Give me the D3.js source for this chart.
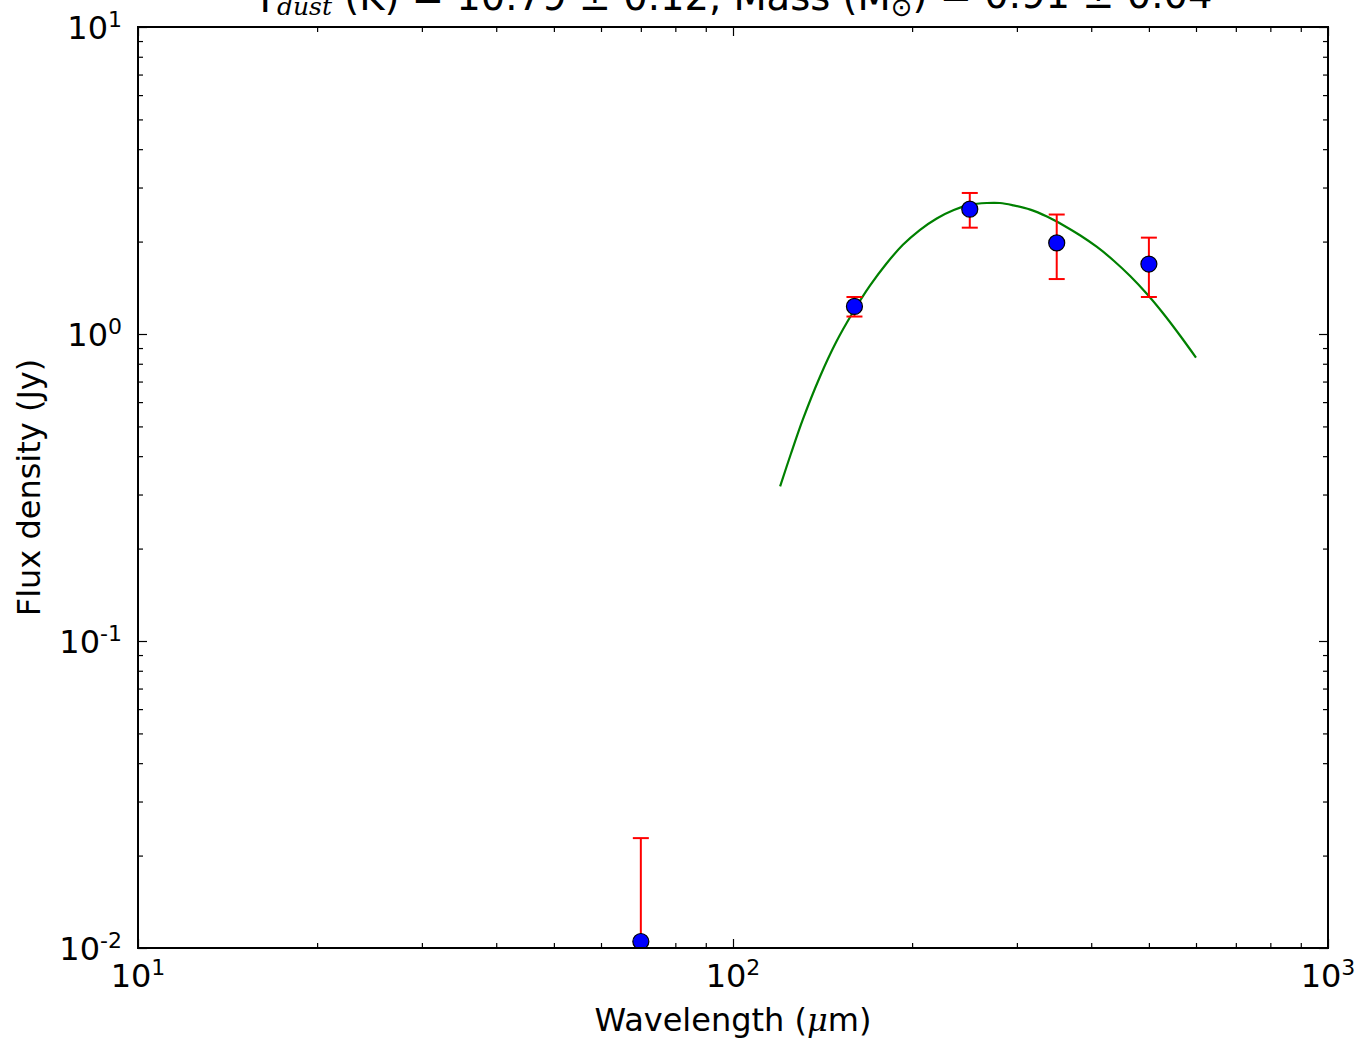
<!DOCTYPE html>
<html>
<head>
<meta charset="utf-8">
<script src="https://cdn.jsdelivr.net/npm/d3@7"></script>
<style>
  body { margin: 0; background: #fff; }
  text { font-family: "DejaVu Sans", sans-serif; fill: #000; }
</style>
</head>
<body>
<div id="chart-container"></div>
<script>
// Photometry points (wavelength in micron, flux in Jy, 1-sigma error)
const wavelength = [70, 160, 250, 350, 500];
const flux = [0.0105, 1.23, 2.55, 1.98, 1.69];
const fluxErr = [0.0123, 0.09, 0.33, 0.47, 0.37];

// Fitted greybody curve
const fitWavelength = [120, 125, 131, 140, 149, 159, 170, 181, 193, 206, 220, 235, 250, 267,
  281, 296, 316, 337, 359, 383, 409, 436, 465, 496, 529, 564, 600];
const fitFlux = [0.319, 0.405, 0.526, 0.726, 0.940, 1.175, 1.439, 1.694, 1.952, 2.181, 2.379, 2.535, 2.634, 2.671,
  2.671, 2.624, 2.541, 2.413, 2.262, 2.097, 1.921, 1.736, 1.545, 1.352, 1.164, 0.989, 0.838];

// Axis ranges and tick label exponents
const xDomain = [10, 1000];
const yDomain = [0.01, 10];
const xMajorExp = [1, 2, 3];
const yMajorExp = [-2, -1, 0, 1];

// Set dimensions and margins for the chart
const W = 1358, H = 1039;
const margin = { top: 27, right: 30, bottom: 91, left: 138 };
const width = W - margin.left - margin.right;
const height = H - margin.top - margin.bottom;

const x = d3.scaleLog().domain(xDomain).range([0, width]);
const y = d3.scaleLog().domain(yDomain).range([height, 0]);

const svg = d3.select("#chart-container")
  .append("svg")
  .attr("width", W)
  .attr("height", H)
  .append("g")
  .attr("transform", `translate(${margin.left},${margin.top})`);

svg.append("clipPath")
  .attr("id", "plot-clip")
  .append("rect")
  .attr("width", width)
  .attr("height", height);

const isMajor = d => Math.abs(Math.log10(d) - Math.round(Math.log10(d))) < 1e-6;
const xMinor = x.ticks().filter(d => !isMajor(d));
const yMinor = y.ticks().filter(d => !isMajor(d));
const xMajor = xMajorExp.map(e => Math.pow(10, e));
const yMajor = yMajorExp.map(e => Math.pow(10, e));

// Inward ticks on all four sides
function ticks(axisFn, scale, values, size, transform) {
  svg.append("g")
    .attr("transform", transform)
    .call(axisFn(scale).tickValues(values).tickSize(-size).tickFormat(""))
    .call(g => g.select(".domain").remove())
    .selectAll(".tick line")
    .attr("stroke", "#000")
    .attr("stroke-width", 1.2);
}
ticks(d3.axisBottom, x, xMinor, 5, `translate(0,${height})`);
ticks(d3.axisBottom, x, xMajor, 9, `translate(0,${height})`);
ticks(d3.axisTop, x, xMinor, 5, "translate(0,0)");
ticks(d3.axisTop, x, xMajor, 9, "translate(0,0)");
ticks(d3.axisLeft, y, yMinor, 5, "translate(0,0)");
ticks(d3.axisLeft, y, yMajor, 9, "translate(0,0)");
ticks(d3.axisRight, y, yMinor, 5, `translate(${width},0)`);
ticks(d3.axisRight, y, yMajor, 9, `translate(${width},0)`);

// Power-of-ten tick labels
function powLabel(t, exp) {
  t.append("tspan").text("10");
  t.append("tspan")
    .attr("dy", "-0.55em")
    .style("font-size", "22px")
    .text(exp < 0 ? "-" + (-exp) : String(exp));
}
xMajorExp.forEach((e, i) => {
  svg.append("text")
    .attr("x", x(xMajor[i]))
    .attr("y", height + 39)
    .attr("text-anchor", "middle")
    .style("font-size", "32px")
    .call(powLabel, e);
});
yMajorExp.forEach((e, i) => {
  svg.append("text")
    .attr("x", -16)
    .attr("y", y(yMajor[i]) + 12)
    .attr("text-anchor", "end")
    .style("font-size", "32px")
    .call(powLabel, e);
});

// Fit curve
svg.append("path")
  .datum(fitWavelength.map((w, i) => [w, fitFlux[i]]))
  .attr("clip-path", "url(#plot-clip)")
  .attr("fill", "none")
  .attr("stroke", "#008000")
  .attr("stroke-width", 2.2)
  .attr("d", d3.line().x(d => x(d[0])).y(d => y(d[1])).curve(d3.curveCatmullRom.alpha(0.5)));

// Error bars, clipped to the axes (negative lower limits run off the bottom)
const err = svg.append("g").attr("clip-path", "url(#plot-clip)");
wavelength.forEach((w, i) => {
  const hi = flux[i] + fluxErr[i];
  const lo = flux[i] - fluxErr[i];
  const yLo = lo > 0 ? y(lo) : height + 20;
  err.append("line")
    .attr("x1", x(w)).attr("x2", x(w))
    .attr("y1", y(hi)).attr("y2", yLo)
    .attr("stroke", "#ff0000").attr("stroke-width", 2);
  [hi, lo].filter(v => v > 0).forEach(v => {
    err.append("line")
      .attr("x1", x(w) - 8).attr("x2", x(w) + 8)
      .attr("y1", y(v)).attr("y2", y(v))
      .attr("stroke", "#ff0000").attr("stroke-width", 2);
  });
});

// Data markers
svg.append("g")
  .attr("clip-path", "url(#plot-clip)")
  .selectAll("circle")
  .data(wavelength.map((w, i) => [w, flux[i]]))
  .join("circle")
  .attr("cx", d => x(d[0]))
  .attr("cy", d => y(d[1]))
  .attr("r", 8)
  .attr("fill", "#0000ff")
  .attr("stroke", "#000")
  .attr("stroke-width", 1.2);

// Frame
svg.append("rect")
  .attr("width", width)
  .attr("height", height)
  .attr("fill", "none")
  .attr("stroke", "#000")
  .attr("stroke-width", 2);

// Axis labels
const xl = svg.append("text")
  .attr("x", width / 2)
  .attr("y", height + 83)
  .attr("text-anchor", "middle")
  .style("font-size", "32px");
xl.append("tspan").text("Wavelength (");
xl.append("tspan").style("font-style", "italic").style("font-family", "DejaVu Serif").text("μ");
xl.append("tspan").text("m)");

svg.append("text")
  .attr("transform", `translate(${40 - margin.left},${height / 2}) rotate(-90)`)
  .attr("text-anchor", "middle")
  .style("font-size", "32px")
  .text("Flux density (Jy)");

// Title (runs off the top of the page, as in the original)
const title = svg.append("text")
  .attr("x", width / 2)
  .attr("y", 12 - margin.top)
  .attr("text-anchor", "middle")
  .style("font-size", "38.5px");
title.append("tspan").text("T");
title.append("tspan")
  .attr("dy", "0.12em")
  .style("font-size", "25px")
  .style("font-style", "italic")
  .style("font-family", "DejaVu Serif")
  .text("dust");
title.append("tspan").attr("dy", "-0.12em").text(" (K) = 10.79 ± 0.12, Mass (M");
title.append("tspan")
  .attr("dy", "0.2em")
  .style("font-size", "26px")
  .text("⊙");
title.append("tspan").attr("dy", "-0.2em").text(") = 0.91 ± 0.04");
</script>
</body>
</html>
